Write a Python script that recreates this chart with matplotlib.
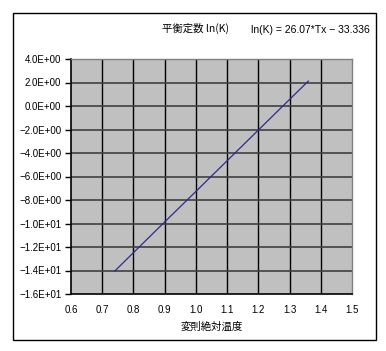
import matplotlib
matplotlib.use("Agg")
import matplotlib.pyplot as plt
from matplotlib.patches import Rectangle
from matplotlib.ticker import FixedLocator, FuncFormatter

plt.rcParams['font.family'] = ['Liberation Sans', 'Noto Sans CJK JP', 'DejaVu Sans']

# Data
tx = [0.74, 0.90, 1.00, 1.10, 1.20, 1.36]
lnk = [-14.05, -9.87, -7.27, -4.66, -2.05, 2.12]
x_ticks = [0.6, 0.7, 0.8, 0.9, 1.0, 1.1, 1.2, 1.3, 1.4, 1.5]
y_ticks = [4, 2, 0, -2, -4, -6, -8, -10, -12, -14, -16]
title = "平衡定数 ln(K)"
equation = "ln(K) = 26.07*Tx − 33.336"
xlabel = "変則絶対温度"

W, H = 386, 351
fig = plt.figure(figsize=(W / 100, H / 100), dpi=100)
fig.patch.set_facecolor("white")

# plot area in pixels
left, right, top, bottom = 71, 352, 59, 294
ax = fig.add_axes([left / W, 1 - bottom / H, (right - left) / W, (bottom - top) / H])
ax.set_facecolor("#C0C0C0")

ax.plot(tx, lnk, color="#2B2B8C", lw=0.9)

ax.set_xlim(0.6, 1.5)
ax.set_ylim(-16, 4)
ax.xaxis.set_major_locator(FixedLocator(x_ticks))
ax.yaxis.set_major_locator(FixedLocator(y_ticks))

def yfmt(v, pos):
    s = "%.1E" % v
    return s.replace("-", "−", 1) if s.startswith("-") else s

ax.yaxis.set_major_formatter(FuncFormatter(yfmt))
ax.xaxis.set_major_formatter(FuncFormatter(lambda v, p: "%.1f" % v))

for v in x_ticks[1:-1]:
    ax.axvline(v, color="black", lw=1.0, zorder=1)
for v in y_ticks[1:-1]:
    ax.axhline(v, color="#404040", lw=1.2, zorder=1)
    
ax.tick_params(axis="y", direction="out", length=4, width=1, pad=3, labelsize=7)
ax.tick_params(axis="x", length=0, pad=8, labelsize=7)

for s in ["left", "bottom"]:
    ax.spines[s].set_color("black")
    ax.spines[s].set_linewidth(1.2)
for s in ["top", "right"]:
    ax.spines[s].set_color("#808080")
    ax.spines[s].set_linewidth(1.0)

ax.set_xlabel(xlabel, fontsize=7.5, labelpad=5, family=['Noto Sans CJK JP', 'DejaVu Sans'])

fig.text(195 / W, 1 - 28 / H, title, ha="center", va="center", fontsize=7.5,
         family=['Noto Sans CJK JP', 'DejaVu Sans'])
fig.text(310 / W, 1 - 30 / H, equation, ha="center", va="center", fontsize=7.5)

fig.add_artist(Rectangle((13 / W, 1 - 340 / H), (376 - 13) / W, (340 - 13) / H,
                         transform=fig.transFigure, fill=False, edgecolor="black", lw=1.0))

fig.savefig("out.png", dpi=100)
